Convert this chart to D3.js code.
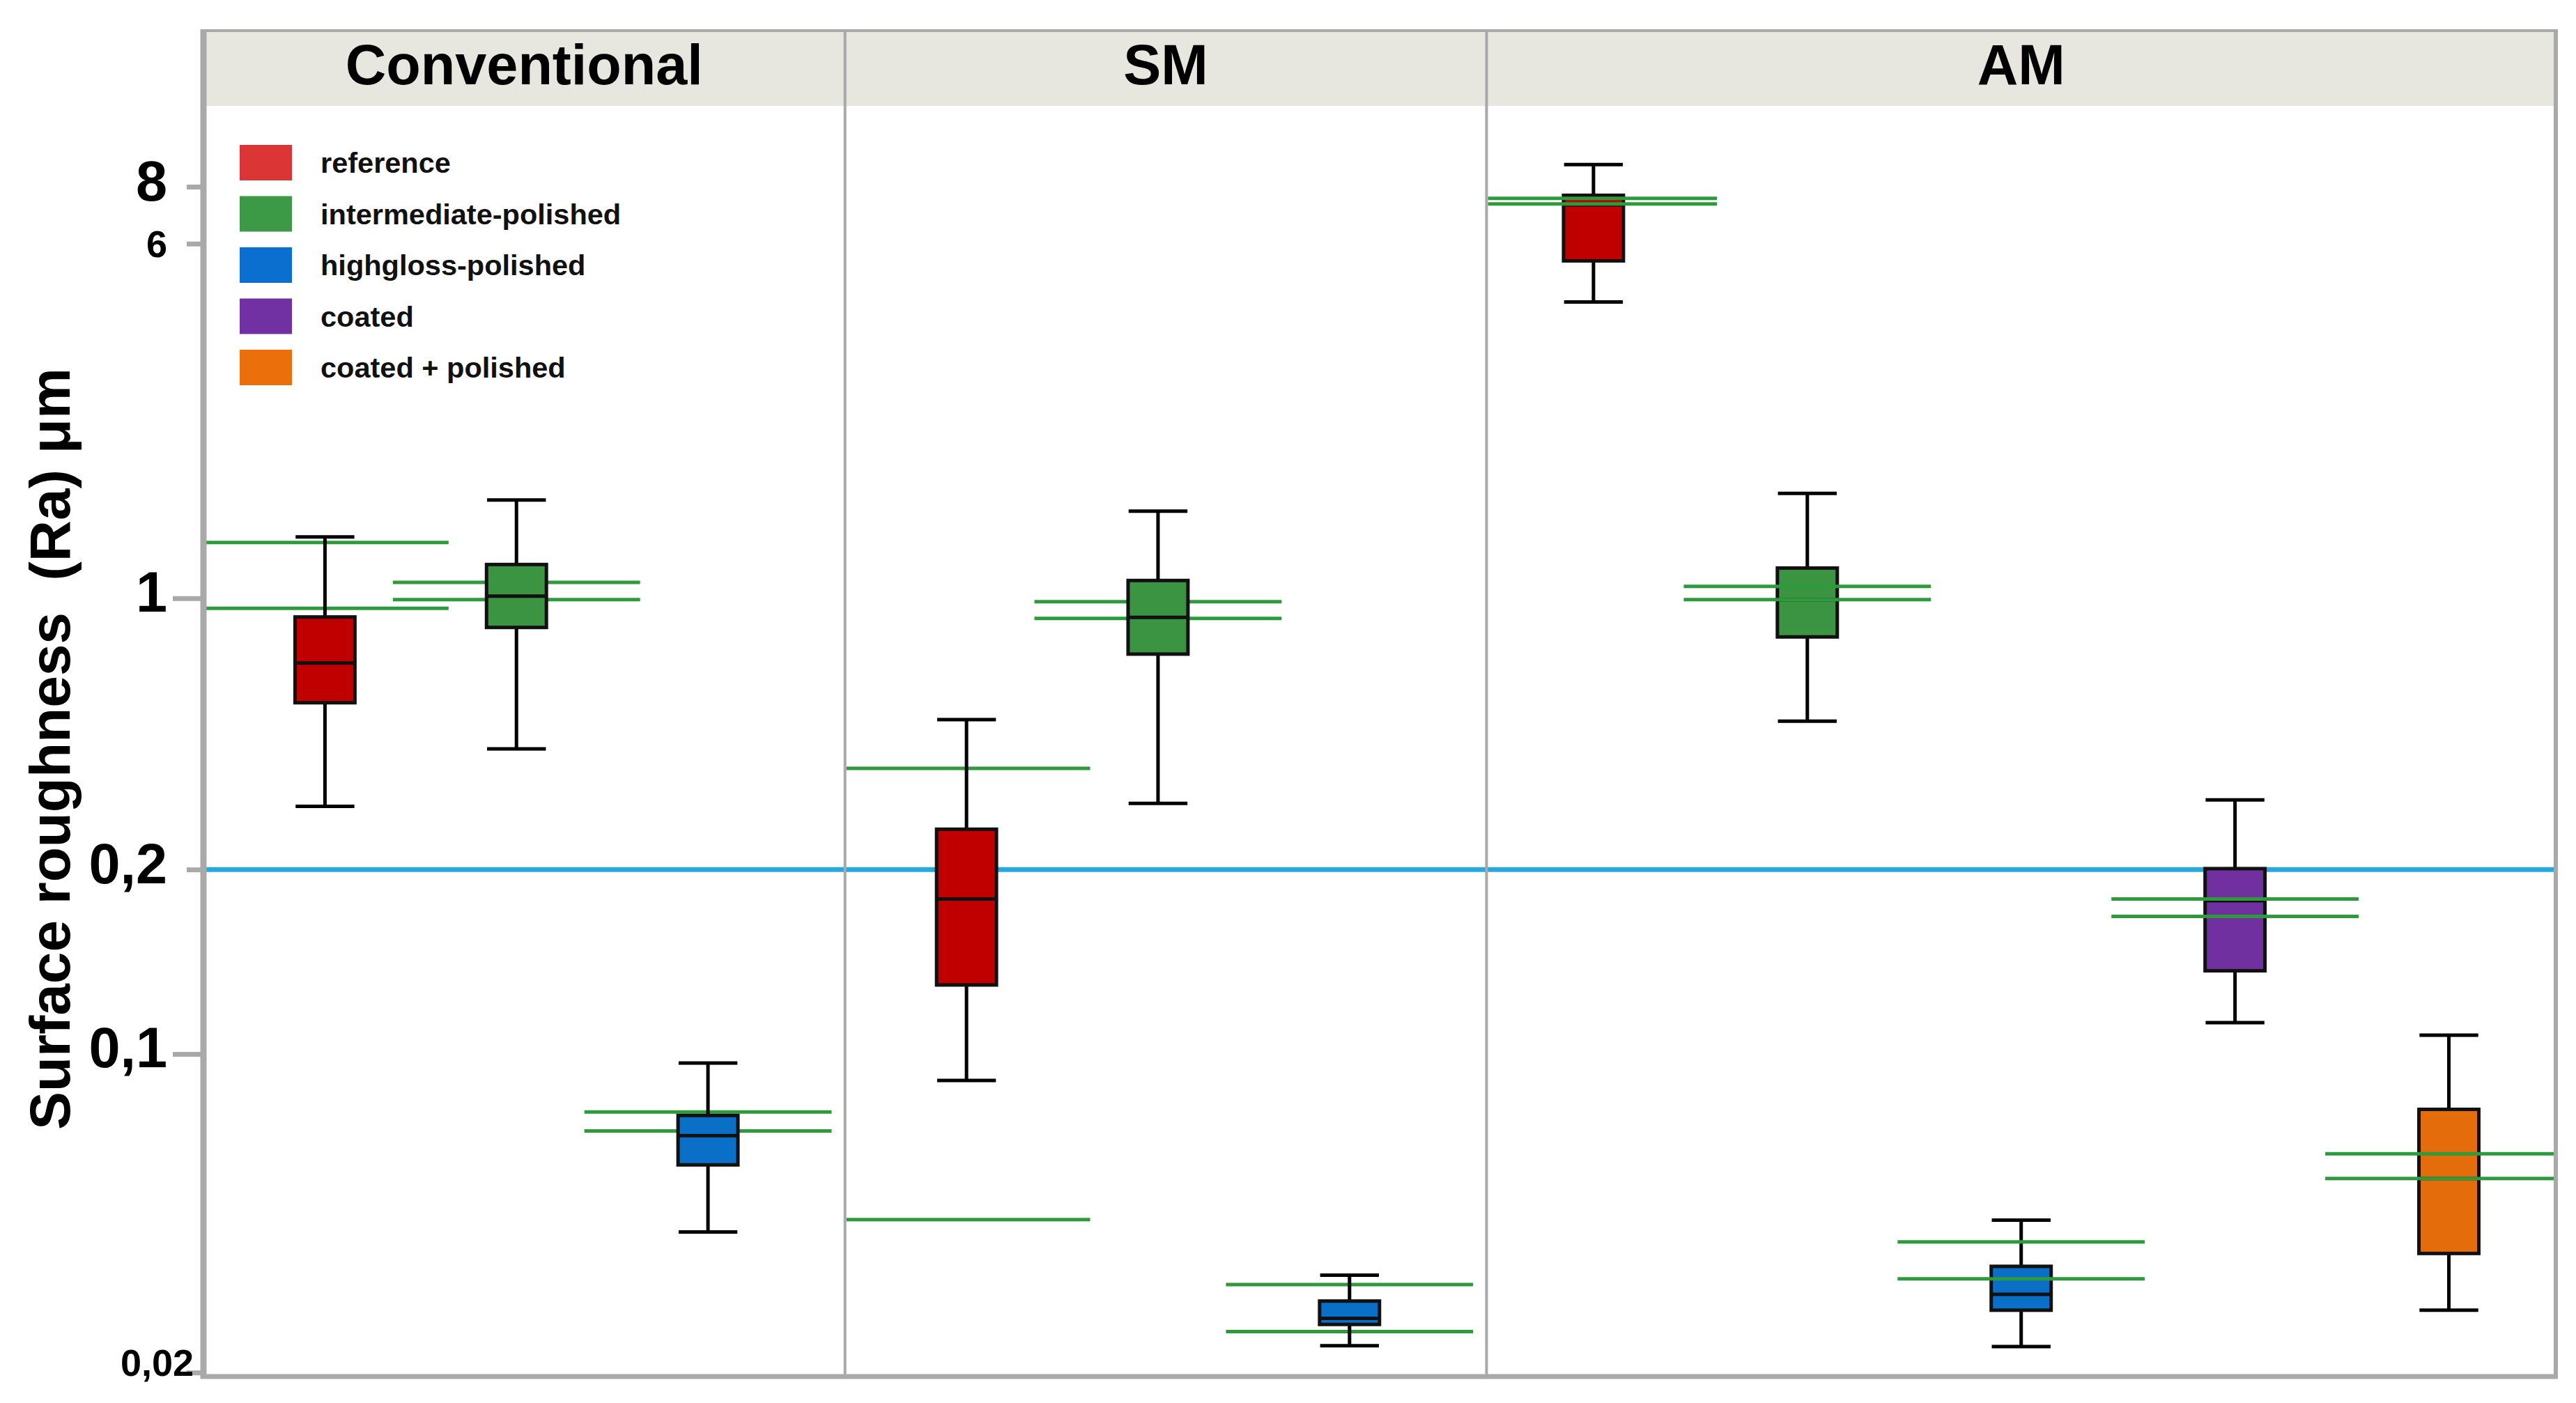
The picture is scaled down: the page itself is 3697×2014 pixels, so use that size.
<!DOCTYPE html>
<html><head><meta charset="utf-8">
<script src="https://cdn.jsdelivr.net/npm/d3@7"></script>
<style>body{margin:0;background:#fff} svg{display:block}</style>
</head><body>
<svg id="chart" width="3697" height="2014"></svg>
<script>
// ---------------- data ----------------
const groups = ["Conventional", "SM", "AM"];
const treatments = ["reference", "intermediate-polished", "highgloss-polished", "coated", "coated + polished"];

const boxGroup = ["Conventional","Conventional","Conventional","SM","SM","SM","AM","AM","AM","AM","AM"];
const boxTreatment = ["reference","intermediate-polished","highgloss-polished",
                      "reference","intermediate-polished","highgloss-polished",
                      "reference","intermediate-polished","highgloss-polished","coated","coated + polished"];

const whiskerLow  = [0.291, 0.409, 0.0407, 0.0875, 0.296, 0.0229, 4.47, 0.482, 0.0228, 0.1125, 0.0274];
const q1          = [0.538, 0.841, 0.0571, 0.1296, 0.718, 0.0255, 5.50, 0.795, 0.0274, 0.1367, 0.0365];
const median      = [0.681, 1.011, 0.0662, 0.179,  0.893, 0.0263, 7.30, 0.992, 0.0297, 0.1779, 0.0533];
const q3          = [0.895, 1.186, 0.0733, 0.254,  1.094, 0.0287, 7.66, 1.165, 0.0342, 0.201,  0.0756];
const whiskerHigh = [1.363, 1.643, 0.0955, 0.4865, 1.553, 0.0327, 8.95, 1.699, 0.0432, 0.3023, 0.1073];
const ciLow       = [0.942, 0.992, 0.0678, 0.0433, 0.887, 0.0246, 7.33, 0.992, 0.0321, 0.1677, 0.0533];
const ciHigh      = [1.326, 1.084, 0.0746, 0.3645, 0.980, 0.0312, 7.54, 1.062, 0.0387, 0.179,  0.0604];

const thresholdValue = 0.2;

const yTickValues = [8, 6, 1, 0.2, 0.1, 0.02];
const yTickLabels = ["8", "6", "1", "0,2", "0,1", "0,02"];
const yMajorTicks = [8, 1, 0.2, 0.1];
const yTitle = "Surface roughness\u00a0\u00a0(Ra) \u03bcm";

// ---------------- layout / style ----------------
const W = 3697, H = 2014;
const pL = 292, pR = 3668, pT = 44, pB = 1976, headerBottom = 152;
const yMin = 0.0196, yMax = 17.6;
// The source figure draws its "0,2" tick where ~0.254 falls on the log axis.
const tick02Pos = 0.254;
// spacing of the boxes inside each panel
const panelPointStyle = {
  "Conventional": { padding: 0.675, align: 0.47 },
  "SM":           { padding: 0.675, align: 0.47 },
  "AM":           { padding: 0.5,   align: 0.5 }
};

const boxFill = {
  "reference": "#c00000",
  "intermediate-polished": "#3b9441",
  "highgloss-polished": "#0a6fc6",
  "coated": "#7030a0",
  "coated + polished": "#e46c0a"
};
const legendFill = {
  "reference": "#dc3535",
  "intermediate-polished": "#3c9a47",
  "highgloss-polished": "#0b6fd0",
  "coated": "#7131a2",
  "coated + polished": "#eb700c"
};
const ciColor = "#2e9a3c";
const frameColor = "#a9a9a9";

const svg = d3.select("#chart");
svg.append("rect").attr("width", W).attr("height", H).attr("fill", "#fff");

// ---------------- scales ----------------
const base = d3.scaleLog().domain([yMin, yMax]).range([pB, pT]);
const y = d3.scaleLog()
  .domain([yMin, 0.1, 0.2, 1, yMax])
  .range([pB, base(0.1), base(tick02Pos), base(1), pT]);

const idx = d3.range(boxGroup.length);
// panels get width proportional to their number of boxes
const slot = d3.scaleLinear().domain([0, boxGroup.length]).range([pL, pR]);
const slotW = slot(1) - slot(0);
let cum = 0;
const panels = groups.map(g => {
  const members = idx.filter(i => boxGroup[i] === g);
  const x0 = slot(cum), x1 = slot(cum + members.length);
  cum += members.length;
  const st = panelPointStyle[g];
  const sc = d3.scalePoint().domain(members.map(i => boxTreatment[i])).range([x0, x1])
    .padding(st.padding).align(st.align);
  return { name: g, x0, x1, members, sc };
});
const panelOf = i => panels.find(p => p.members.includes(i));
const cx = i => panelOf(i).sc(boxTreatment[i]);
const boxW = slotW * 0.28, capW = slotW * 0.275, ciW = slotW * 1.156;

// ---------------- header strip ----------------
svg.append("rect").attr("x", pL).attr("y", pT).attr("width", pR - pL)
  .attr("height", headerBottom - pT).attr("fill", "#e7e7df");

// ---------------- threshold line ----------------
svg.append("line").attr("x1", pL).attr("x2", pR)
  .attr("y1", y(thresholdValue)).attr("y2", y(thresholdValue))
  .attr("stroke", "#2aa7df").attr("stroke-width", 7);

const defs = svg.append("defs");
panels.forEach((p, k) => {
  defs.append("clipPath").attr("id", "clip" + k).append("rect")
    .attr("x", k === 0 ? p.x0 - 7 : p.x0 + 2).attr("y", headerBottom)
    .attr("width", p.x1 - p.x0 + (k === 0 ? 5 : -4)).attr("height", pB - headerBottom);
});

function drawCI(sel, members) {
  members.forEach(i => {
    const k = panels.indexOf(panelOf(i));
    const g = sel.append("g").attr("clip-path", `url(#clip${k})`);
    [ciLow[i], ciHigh[i]].forEach(v => {
      g.append("line").attr("x1", cx(i) - ciW / 2).attr("x2", cx(i) + ciW / 2)
        .attr("y1", y(v)).attr("y2", y(v))
        .attr("stroke", ciColor).attr("stroke-width", 5);
    });
  });
}

// CI lines behind boxes (Conventional, SM)
drawCI(svg, idx.filter(i => boxGroup[i] !== "AM"));

// ---------------- boxes ----------------
const boxes = svg.append("g");
idx.forEach(i => {
  const g = boxes.append("g");
  const c = cx(i);
  g.append("line").attr("x1", c).attr("x2", c).attr("y1", y(whiskerHigh[i])).attr("y2", y(q3[i]))
    .attr("stroke", "#000").attr("stroke-width", 5);
  g.append("line").attr("x1", c).attr("x2", c).attr("y1", y(q1[i])).attr("y2", y(whiskerLow[i]))
    .attr("stroke", "#000").attr("stroke-width", 5);
  [whiskerHigh[i], whiskerLow[i]].forEach(v => {
    g.append("line").attr("x1", c - capW / 2).attr("x2", c + capW / 2).attr("y1", y(v)).attr("y2", y(v))
      .attr("stroke", "#000").attr("stroke-width", 5);
  });
  g.append("rect").attr("x", c - boxW / 2).attr("width", boxW)
    .attr("y", y(q3[i])).attr("height", y(q1[i]) - y(q3[i]))
    .attr("fill", boxFill[boxTreatment[i]]).attr("stroke", "#111").attr("stroke-width", 5);
  g.append("line").attr("x1", c - boxW / 2).attr("x2", c + boxW / 2).attr("y1", y(median[i])).attr("y2", y(median[i]))
    .attr("stroke", "#111").attr("stroke-width", 5);
});

// CI lines on top of boxes (AM)
drawCI(svg, idx.filter(i => boxGroup[i] === "AM"));

// ---------------- frame ----------------
svg.append("line").attr("x1", pL).attr("x2", pR).attr("y1", pT).attr("y2", pT)
  .attr("stroke", frameColor).attr("stroke-width", 4);
svg.append("line").attr("x1", pL - 4).attr("x2", pR + 3).attr("y1", pB).attr("y2", pB)
  .attr("stroke", frameColor).attr("stroke-width", 7);
svg.append("line").attr("x1", pL).attr("x2", pL).attr("y1", pT - 2).attr("y2", pB + 3)
  .attr("stroke", frameColor).attr("stroke-width", 9);
svg.append("line").attr("x1", pR).attr("x2", pR).attr("y1", pT - 2).attr("y2", pB + 3)
  .attr("stroke", frameColor).attr("stroke-width", 6);
panels.slice(1).forEach(p => {
  svg.append("line").attr("x1", p.x0).attr("x2", p.x0).attr("y1", pT).attr("y2", pB)
    .attr("stroke", frameColor).attr("stroke-width", 4);
});

// ---------------- panel titles ----------------
panels.forEach(p => {
  svg.append("text").attr("x", (p.x0 + p.x1) / 2).attr("y", 121)
    .attr("text-anchor", "middle")
    .attr("font-family", "'Liberation Sans', Arial, sans-serif").attr("font-weight", "bold")
    .attr("font-size", 81).attr("fill", "#000").text(p.name);
});

// ---------------- legend ----------------
const legend = svg.append("g").attr("transform", "translate(344,208)");
treatments.forEach((t, k) => {
  const row = legend.append("g").attr("transform", `translate(0,${k * 73.5})`);
  row.append("rect").attr("width", 75).attr("height", 51).attr("fill", legendFill[t]);
  row.append("text").attr("x", 116).attr("y", 25.5).attr("dominant-baseline", "central")
    .attr("font-family", "'Liberation Sans', Arial, sans-serif").attr("font-weight", "bold")
    .attr("font-size", 41.5).attr("fill", "#111").text(t);
});

// ---------------- y axis ----------------
const axis = d3.axisLeft(y).tickValues(yTickValues)
  .tickFormat((d, i) => yTickLabels[i]).tickSize(20).tickPadding(28);
const ag = svg.append("g").attr("transform", `translate(${pL - 4},0)`).call(axis);
ag.select(".domain").remove();
ag.selectAll(".tick line").attr("stroke", frameColor).attr("stroke-width", 7)
  .attr("x2", d => (d === 1 || d === 0.1) ? -40 : -20);
ag.selectAll(".tick text")
  .attr("font-family", "'Liberation Sans', Arial, sans-serif").attr("font-weight", "bold")
  .attr("fill", "#000")
  .attr("font-size", d => yMajorTicks.includes(d) ? 81 : 54)
  .attr("dy", null)
  .attr("y", d => d === 0.02 ? 4 : 19)
  .attr("x", d => d === 0.02 ? -10 : -48);

svg.append("text")
  .attr("transform", "translate(100,1075) rotate(-90)")
  .attr("text-anchor", "middle")
  .attr("font-family", "'Liberation Sans', Arial, sans-serif").attr("font-weight", "bold")
  .attr("font-size", 82).attr("fill", "#000").text(yTitle);
</script>
</body></html>
